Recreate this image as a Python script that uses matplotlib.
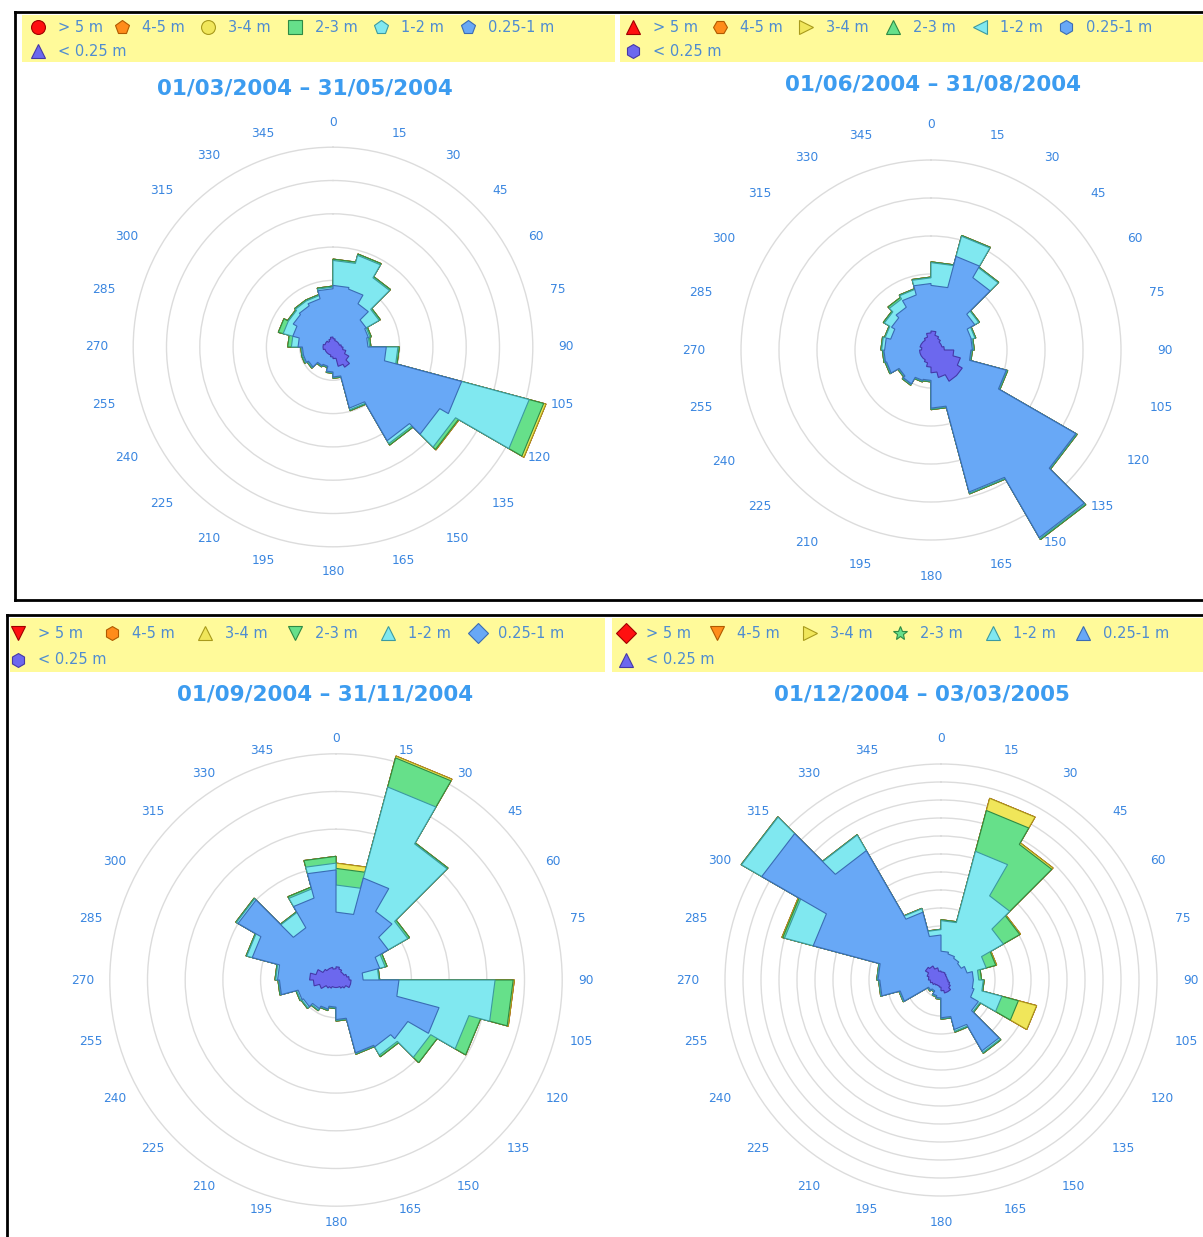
import numpy as np
import matplotlib.pyplot as plt
from matplotlib.transforms import ScaledTranslation

W, H = 1203, 1237
DIRS = np.arange(0, 360, 15)

CLASSES = ["< 0.25 m", "0.25-1 m", "1-2 m", "2-3 m", "3-4 m", "4-5 m", "> 5 m"]
FILLS = ["#6c68ee", "#68a8f6", "#80e8f0", "#66e08a", "#f0e65a", "#ff8c1a", "#ff1010"]
EDGES = ["#4538a8", "#3a6cb4", "#3c9aa0", "#2e8a44", "#a89a1c", "#b05a00", "#a00000"]

EMPTY = [0] * 24

# 01/03/2004 - 31/05/2004, frequency per 15 deg sector and height class
spring_lt025 = [0.25, 0.2, 0.2, 0.2, 0.2, 0.25, 0.3, 0.4, 0.55, 0.7, 0.6, 0.35,
                0.3, 0.25, 0.25, 0.25, 0.25, 0.3, 0.3, 0.25, 0.25, 0.2, 0.25, 0.3]
spring_025_1 = [1.6, 1.6, 1.3, 0.95, 0.9, 0.8, 1.3, 3.6, 3.15, 2.55, 1.3, 0.55,
                0.45, 0.35, 0.4, 0.6, 0.67, 0.62, 0.75, 1.0, 1.13, 1.23, 1.25, 1.45]
spring_1_2 = [0.75, 1.05, 0.9, 0.45, 0.05, 0.05, 0.35, 2.1, 0.55, 0.1, 0.05, 0.02,
              0.02, 0.02, 0.02, 0.03, 0.03, 0.03, 0.2, 0.3, 0.17, 0.17, 0.1, 0.05]
spring_2_3 = [0.04, 0.04, 0.04, 0.04, 0.04, 0.04, 0.04, 0.45, 0.1, 0.05, 0.03, 0.02,
              0.02, 0.02, 0.02, 0.02, 0.03, 0.02, 0.11, 0.15, 0.03, 0.03, 0.03, 0.03]
spring_3_4 = [0, 0, 0, 0, 0, 0, 0, 0.07, 0.02, 0, 0, 0,
              0, 0, 0, 0, 0, 0, 0, 0, 0, 0, 0, 0]

# 01/06/2004 - 31/08/2004
summer_lt025 = [0.5, 0.4, 0.35, 0.3, 0.3, 0.35, 0.6, 0.8, 0.95, 0.95, 0.75, 0.6,
                0.45, 0.35, 0.3, 0.3, 0.3, 0.3, 0.25, 0.3, 0.3, 0.3, 0.35, 0.45]
summer_025_1 = [1.2, 2.15, 1.85, 1.03, 0.8, 0.74, 0.45, 1.25, 3.45, 4.75, 3.12, 0.93,
                0.35, 0.48, 0.73, 0.67, 0.91, 0.94, 0.97, 0.8, 0.9, 1.0, 1.15, 1.3]
summer_1_2 = [0.6, 0.55, 0.3, 0.12, 0.1, 0.03, 0.02, 0.02, 0.02, 0.03, 0.03, 0.02,
              0.02, 0.02, 0.02, 0.02, 0.02, 0.02, 0.08, 0.15, 0.22, 0.25, 0.15, 0.15]
summer_2_3 = [0.02, 0.02, 0.02, 0.02, 0.02, 0.02, 0.02, 0.02, 0.02, 0.03, 0.02, 0.02,
              0.02, 0.02, 0.02, 0.02, 0.02, 0.02, 0.02, 0.02, 0.03, 0.05, 0.02, 0.02]

# 01/09/2004 - 31/11/2004
autumn_lt025 = [0.35, 0.3, 0.25, 0.25, 0.3, 0.35, 0.4, 0.4, 0.3, 0.25, 0.2, 0.2,
                0.2, 0.2, 0.25, 0.3, 0.45, 0.6, 0.7, 0.55, 0.4, 0.35, 0.35, 0.3]
autumn_025_1 = [1.45, 2.5, 1.85, 1.35, 0.9, 0.37, 1.27, 2.43, 1.9, 1.8, 1.8, 0.85,
                0.52, 0.6, 0.63, 0.7, 0.59, 0.9, 0.85, 1.75, 2.6, 1.25, 1.9, 2.62]
autumn_1_2 = [0.72, 2.5, 2.07, 0.6, 0.15, 0.42, 2.55, 0.82, 0.7, 0.25, 0.02, 0.02,
              0.02, 0.02, 0.04, 0.05, 0.04, 0.02, 0.05, 0.15, 0.05, 0.47, 0.25, 0.18]
autumn_2_3 = [0.44, 0.8, 0.03, 0.05, 0.05, 0.02, 0.48, 0.32, 0.2, 0.05, 0.02, 0.02,
              0.02, 0.02, 0.02, 0.02, 0.02, 0.02, 0.02, 0.02, 0.02, 0.02, 0.05, 0.18]
autumn_3_4 = [0.14, 0.05, 0, 0, 0, 0, 0.03, 0, 0, 0, 0, 0,
              0, 0, 0, 0, 0, 0, 0, 0, 0, 0, 0, 0]

# 01/12/2004 - 03/03/2005
winter_lt025 = [0.45, 0.45, 0.4, 0.35, 0.35, 0.35, 0.4, 0.5, 0.6, 0.75, 0.75, 0.6,
                0.4, 0.35, 0.35, 0.4, 0.5, 0.6, 0.7, 0.8, 1.0, 0.9, 0.7, 0.5]
winter_025_1 = [1.15, 1.05, 1.0, 0.95, 1.15, 1.45, 1.4, 1.4, 1.8, 3.8, 2.1, 1.5,
                0.6, 0.55, 0.35, 0.4, 1.85, 2.8, 2.8, 6.55, 10.5, 7.4, 3.2, 2.0]
winter_1_2 = [1.7, 5.9, 4.0, 2.7, 1.1, 0.3, 0.55, 1.6, 0.1, 0.1, 0.1, 0.05,
              0.05, 0.05, 0.05, 0.05, 0.05, 0.05, 0.05, 1.65, 1.3, 1.0, 0.2, 0.3]
winter_2_3 = [0.05, 2.35, 3.3, 1.05, 0.55, 0.15, 0.05, 0.95, 0.05, 0.05, 0.05, 0.03,
              0.02, 0.02, 0.02, 0.02, 0.02, 0.02, 0.02, 0.1, 0.02, 0.02, 0.02, 0.02]
winter_3_4 = [0, 0.7, 0.1, 0.05, 0.05, 0, 0, 1.05, 0, 0, 0, 0,
              0, 0, 0, 0, 0, 0, 0, 0.05, 0, 0, 0, 0]

panels = [
    dict(title="01/03/2004 \u2013 31/05/2004",
         series=[spring_lt025, spring_025_1, spring_1_2, spring_2_3, spring_3_4, EMPTY, EMPTY],
         centre=(333, 347), ring_px=33.3, rings=6, label_px=225, title_xy=(305, 88),
         band=(22, 15, 593, 47), rows=(27, 51), icon_x=[38, 122, 208, 295, 381, 468],
         marks=["o", "p", "o", "s", "p", "p", "^"]),
    dict(title="01/06/2004 \u2013 31/08/2004",
         series=[summer_lt025, summer_025_1, summer_1_2, summer_2_3, EMPTY, EMPTY, EMPTY],
         centre=(931, 350), ring_px=38.0, rings=5, label_px=226, title_xy=(933, 84),
         band=(620, 15, 583, 47), rows=(27, 51), icon_x=[633, 720, 806, 893, 980, 1066],
         marks=["^", "H", ">", "^", "<", "h", "h"]),
    dict(title="01/09/2004 \u2013 31/11/2004",
         series=[autumn_lt025, autumn_025_1, autumn_1_2, autumn_2_3, autumn_3_4, EMPTY, EMPTY],
         centre=(336, 980), ring_px=37.7, rings=6, label_px=242, title_xy=(325, 695),
         band=(10, 618, 595, 54), rows=(633, 660), icon_x=[18, 112, 205, 295, 388, 478],
         marks=["v", "h", "^", "v", "^", "D", "h"]),
    dict(title="01/12/2004 \u2013 03/03/2005",
         series=[winter_lt025, winter_025_1, winter_1_2, winter_2_3, winter_3_4, EMPTY, EMPTY],
         centre=(941, 980), ring_px=18.0, rings=12, label_px=242, title_xy=(922, 695),
         band=(612, 618, 591, 54), rows=(633, 660), icon_x=[626, 717, 810, 900, 993, 1083],
         marks=["D", "v", ">", "*", "^", "^", "^"]),
]

LABEL_BLUE = "#3a86e0"
TITLE_BLUE = "#3c9cf0"
LEGEND_BLUE = "#4f8cd0"

fig = plt.figure(figsize=(W / 100, H / 100), dpi=100)

# pixel-space layer for frames, legend bands and titles
bg = fig.add_axes([0, 0, 1, 1], zorder=0)
bg.set_xlim(0, W)
bg.set_ylim(H, 0)
bg.axis("off")

bg.plot([15, W], [12, 12], color="black", lw=2)
bg.plot([15, W], [600, 600], color="black", lw=2)
bg.plot([15, 15], [12, 600], color="black", lw=2)
bg.plot([7, W], [615, 615], color="black", lw=2)
bg.plot([7, 7], [615, H], color="black", lw=2)


def step_outline(values):
    th, r = [], []
    for d, v in zip(DIRS, values):
        th += [np.deg2rad(d), np.deg2rad(d + 15)]
        r += [v, v]
    return th, r


for p in panels:
    x0, y0, bw, bh = p["band"]
    bg.add_patch(plt.Rectangle((x0, y0), bw, bh, color="#fffa9a", lw=0))

    # legend: first row from "> 5 m" down to "0.25-1 m", second row "< 0.25 m"
    order = list(range(6, 0, -1))
    for k, ix in zip(order, p["icon_x"]):
        bg.plot(ix, p["rows"][0], marker=p["marks"][6 - k], ms=10, color=FILLS[k],
                mec=EDGES[k], mew=0.8)
        bg.text(ix + 20, p["rows"][0], CLASSES[k], color=LEGEND_BLUE, fontsize=10.5,
                va="center", ha="left")
    bg.plot(p["icon_x"][0], p["rows"][1], marker=p["marks"][6], ms=10, color=FILLS[0],
            mec=EDGES[0], mew=0.8)
    bg.text(p["icon_x"][0] + 20, p["rows"][1], CLASSES[0], color=LEGEND_BLUE,
            fontsize=10.5, va="center", ha="left")

    bg.text(*p["title_xy"], p["title"], color=TITLE_BLUE, fontsize=15.5,
            fontweight="bold", ha="center", va="center")

    # polar rose
    cx, cy = p["centre"]
    rlim = p["rings"] + 1.5
    rad = rlim * p["ring_px"]
    ax = fig.add_axes([(cx - rad) / W, (H - cy - rad) / H, 2 * rad / W, 2 * rad / H],
                      projection="polar", zorder=2)
    ax.set_facecolor("none")
    ax.set_theta_zero_location("N")
    ax.set_theta_direction(-1)
    ax.set_ylim(0, rlim)
    ax.set_yticks(np.arange(1, p["rings"] + 1))
    ax.set_yticklabels([])
    ax.set_xticks([])
    ax.grid(True, axis="y", color="#dcdcdc", lw=1)
    ax.set_axisbelow(True)
    ax.spines["polar"].set_visible(False)

    cum = np.cumsum(np.array(p["series"], dtype=float), axis=0)
    for k in range(len(CLASSES) - 1, -1, -1):
        th, r = step_outline(cum[k])
        ax.fill(th, r, facecolor=FILLS[k], edgecolor=EDGES[k], lw=0.8,
                clip_on=False, zorder=2 + (6 - k))

    # direction labels anchored by their inner edge, nudged slightly inwards
    rl = p["label_px"] / p["ring_px"]
    for d in DIRS:
        if d in (0, 180):
            ha, dy = "center", 0.0
        else:
            ha = "left" if d < 180 else "right"
            dy = -4.0 * np.cos(np.deg2rad(d))
        nudge = ScaledTranslation(0, dy / 100, fig.dpi_scale_trans)
        ax.text(np.deg2rad(d), rl, str(d), color=LABEL_BLUE, fontsize=8.8,
                ha=ha, va="center", transform=ax.transData + nudge)

fig.savefig("out.png", dpi=100)
